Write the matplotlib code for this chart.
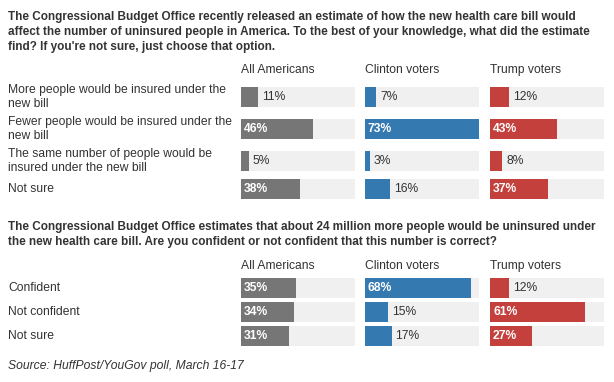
import matplotlib
matplotlib.use("Agg")
import matplotlib.pyplot as plt

plt.rcParams["font.family"] = ["Liberation Sans", "DejaVu Sans"]

W, H, DPI = 614, 382, 100

groups = ["All Americans", "Clinton voters", "Trump voters"]
colors = ["#767676", "#3579b1", "#c4403c"]

q1_title = ("The Congressional Budget Office recently released an estimate of how the new health care bill would\n"
            "affect the number of uninsured people in America. To the best of your knowledge, what did the estimate\n"
            "find? If you're not sure, just choose that option.")
q1_answers = ["More people would be insured under the\nnew bill",
              "Fewer people would be insured under the\nnew bill",
              "The same number of people would be\ninsured under the new bill",
              "Not sure"]
q1_all = [11, 46, 5, 38]
q1_clinton = [7, 73, 3, 16]
q1_trump = [12, 43, 8, 37]

q2_title = ("The Congressional Budget Office estimates that about 24 million more people would be uninsured under\n"
            "the new health care bill. Are you confident or not confident that this number is correct?")
q2_answers = ["Confident", "Not confident", "Not sure"]
q2_all = [35, 34, 31]
q2_clinton = [68, 15, 17]
q2_trump = [12, 61, 27]

source = "Source: HuffPost/YouGov poll, March 16-17"

SCALE_MAX = 73
INSIDE_MIN = 25
TEXT = "#333333"
FS = 8.7
TITLE_FS = 8.5

fig = plt.figure(figsize=(W / DPI, H / DPI), dpi=DPI)

col_x = [241, 365, 490]
col_w = 114
bar_h = 20


def px_axes(x, y, w, h):
    return fig.add_axes([x / W, 1 - (y + h) / H, w / W, h / H])


def section(title, title_y, header_y, answers, series, row_tops):
    fig.text(8 / W, 1 - title_y / H, title, fontsize=TITLE_FS, fontweight="bold",
             color=TEXT, va="top", ha="left", linespacing=1.36)
    top, bottom = row_tops[0], row_tops[-1] + bar_h
    for answer, rt in zip(answers, row_tops):
        fig.text(8 / W, 1 - (rt + bar_h / 2) / H, answer, fontsize=FS,
                 color=TEXT, va="center", ha="left", linespacing=1.2)
    for group, color, values, x in zip(groups, colors, series, col_x):
        fig.text(x / W, 1 - header_y / H, group, fontsize=FS, color=TEXT,
                 va="center", ha="left")
        ax = px_axes(x, top, col_w, bottom - top)
        ax.set_xlim(0, SCALE_MAX)
        ax.set_ylim(bottom, top)
        ax.axis("off")
        centers = [rt + bar_h / 2 for rt in row_tops]
        ax.barh(centers, [SCALE_MAX] * len(values), height=bar_h, color="#f0f0f0", left=0)
        ax.barh(centers, values, height=bar_h, color=color, left=0)
        for c, v in zip(centers, values):
            if v >= INSIDE_MIN:
                ax.annotate(f"{v}%", (0, c), xytext=(3, 0), textcoords="offset pixels",
                            ha="left", va="center", fontsize=FS, fontweight="bold",
                            color="white")
            else:
                ax.annotate(f"{v}%", (v, c), xytext=(4, 0), textcoords="offset pixels",
                            ha="left", va="center", fontsize=FS, color=TEXT)


section(q1_title, 11, 70, q1_answers, [q1_all, q1_clinton, q1_trump], [87, 119, 151, 179])
section(q2_title, 221, 266, q2_answers, [q2_all, q2_clinton, q2_trump], [278, 302, 326])

fig.text(8 / W, 1 - 366 / H, source, fontsize=FS, style="italic", color=TEXT,
         va="center", ha="left")

fig.savefig("out.png", dpi=DPI)
